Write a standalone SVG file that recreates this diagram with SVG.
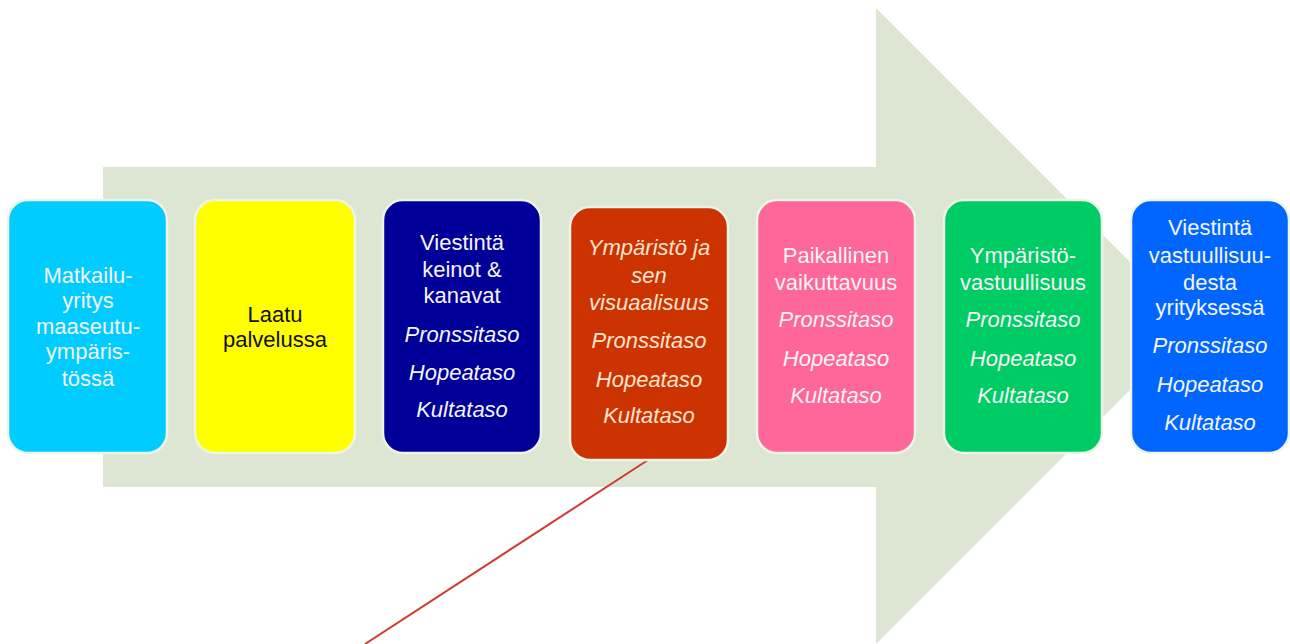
<svg xmlns="http://www.w3.org/2000/svg" width="1290" height="644" viewBox="0 0 1290 644">
<style>
.box{stroke:#eef4e8;stroke-width:2.5}
.t{font-family:"Liberation Sans",Arial,sans-serif;font-size:22px;text-anchor:middle;fill:#f4f4f4}
.i{font-style:italic}
.dark{fill:#111111}
.peach{fill:#fde4d0}
</style>
<rect width="1290" height="644" fill="#ffffff"/>
<g id="arrow">
<polygon points="103,167 876,167 876,8 1194,326 876,644 876,487 103,487" fill="#dde6d3"/>
</g>
<g id="connectors">
<line x1="648" y1="460" x2="365" y2="644" stroke="#d03a32" stroke-width="2"/>
</g>
<g id="n1">
<rect class="box" x="8" y="200" width="159" height="253" rx="20" fill="#00ccff"/>
<text class="t" x="88" y="283">Matkailu-</text>
<text class="t" x="88" y="308">yritys</text>
<text class="t" x="88" y="334">maaseutu-</text>
<text class="t" x="88" y="359">ympäris-</text>
<text class="t" x="88" y="386">tössä</text>
</g>
<g id="n2">
<rect class="box" x="195" y="200" width="160" height="253" rx="20" fill="#ffff00"/>
<text class="t dark" x="275" y="322">Laatu</text>
<text class="t dark" x="275" y="347">palvelussa</text>
</g>
<g id="n3">
<rect class="box" x="383" y="200" width="158" height="253" rx="20" fill="#000099"/>
<text class="t" x="462" y="250">Viestintä</text>
<text class="t" x="462" y="277">keinot &amp;</text>
<text class="t" x="462" y="303">kanavat</text>
<text class="t i" x="462" y="342">Pronssitaso</text>
<text class="t i" x="462" y="380">Hopeataso</text>
<text class="t i" x="462" y="417">Kultataso</text>
</g>
<g id="n4">
<rect class="box" x="570" y="207" width="158" height="253" rx="20" fill="#cc3300" stroke="#f6d8c4"/>
<text class="t i peach" x="649" y="255">Ympäristö ja</text>
<text class="t i peach" x="649" y="283">sen</text>
<text class="t i peach" x="649" y="310">visuaalisuus</text>
<text class="t i peach" x="649" y="348">Pronssitaso</text>
<text class="t i peach" x="649" y="387">Hopeataso</text>
<text class="t i peach" x="649" y="423">Kultataso</text>
</g>
<g id="n5">
<rect class="box" x="757" y="200" width="158" height="253" rx="20" fill="#ff6699"/>
<text class="t" x="836" y="263">Paikallinen</text>
<text class="t" x="836" y="290">vaikuttavuus</text>
<text class="t i" x="836" y="327">Pronssitaso</text>
<text class="t i" x="836" y="366">Hopeataso</text>
<text class="t i" x="836" y="403">Kultataso</text>
</g>
<g id="n6">
<rect class="box" x="944" y="200" width="158" height="253" rx="20" fill="#00cc66"/>
<text class="t" x="1023" y="263">Ympäristö-</text>
<text class="t" x="1023" y="290">vastuullisuus</text>
<text class="t i" x="1023" y="327">Pronssitaso</text>
<text class="t i" x="1023" y="366">Hopeataso</text>
<text class="t i" x="1023" y="403">Kultataso</text>
</g>
<g id="n7">
<rect class="box" x="1131" y="200" width="158" height="253" rx="20" fill="#0066ff"/>
<text class="t" x="1210" y="235">Viestintä</text>
<text class="t" x="1210" y="263">vastuullisuu-</text>
<text class="t" x="1210" y="290">desta</text>
<text class="t" x="1210" y="315">yrityksessä</text>
<text class="t i" x="1210" y="353">Pronssitaso</text>
<text class="t i" x="1210" y="392">Hopeataso</text>
<text class="t i" x="1210" y="430">Kultataso</text>
</g>
</svg>
